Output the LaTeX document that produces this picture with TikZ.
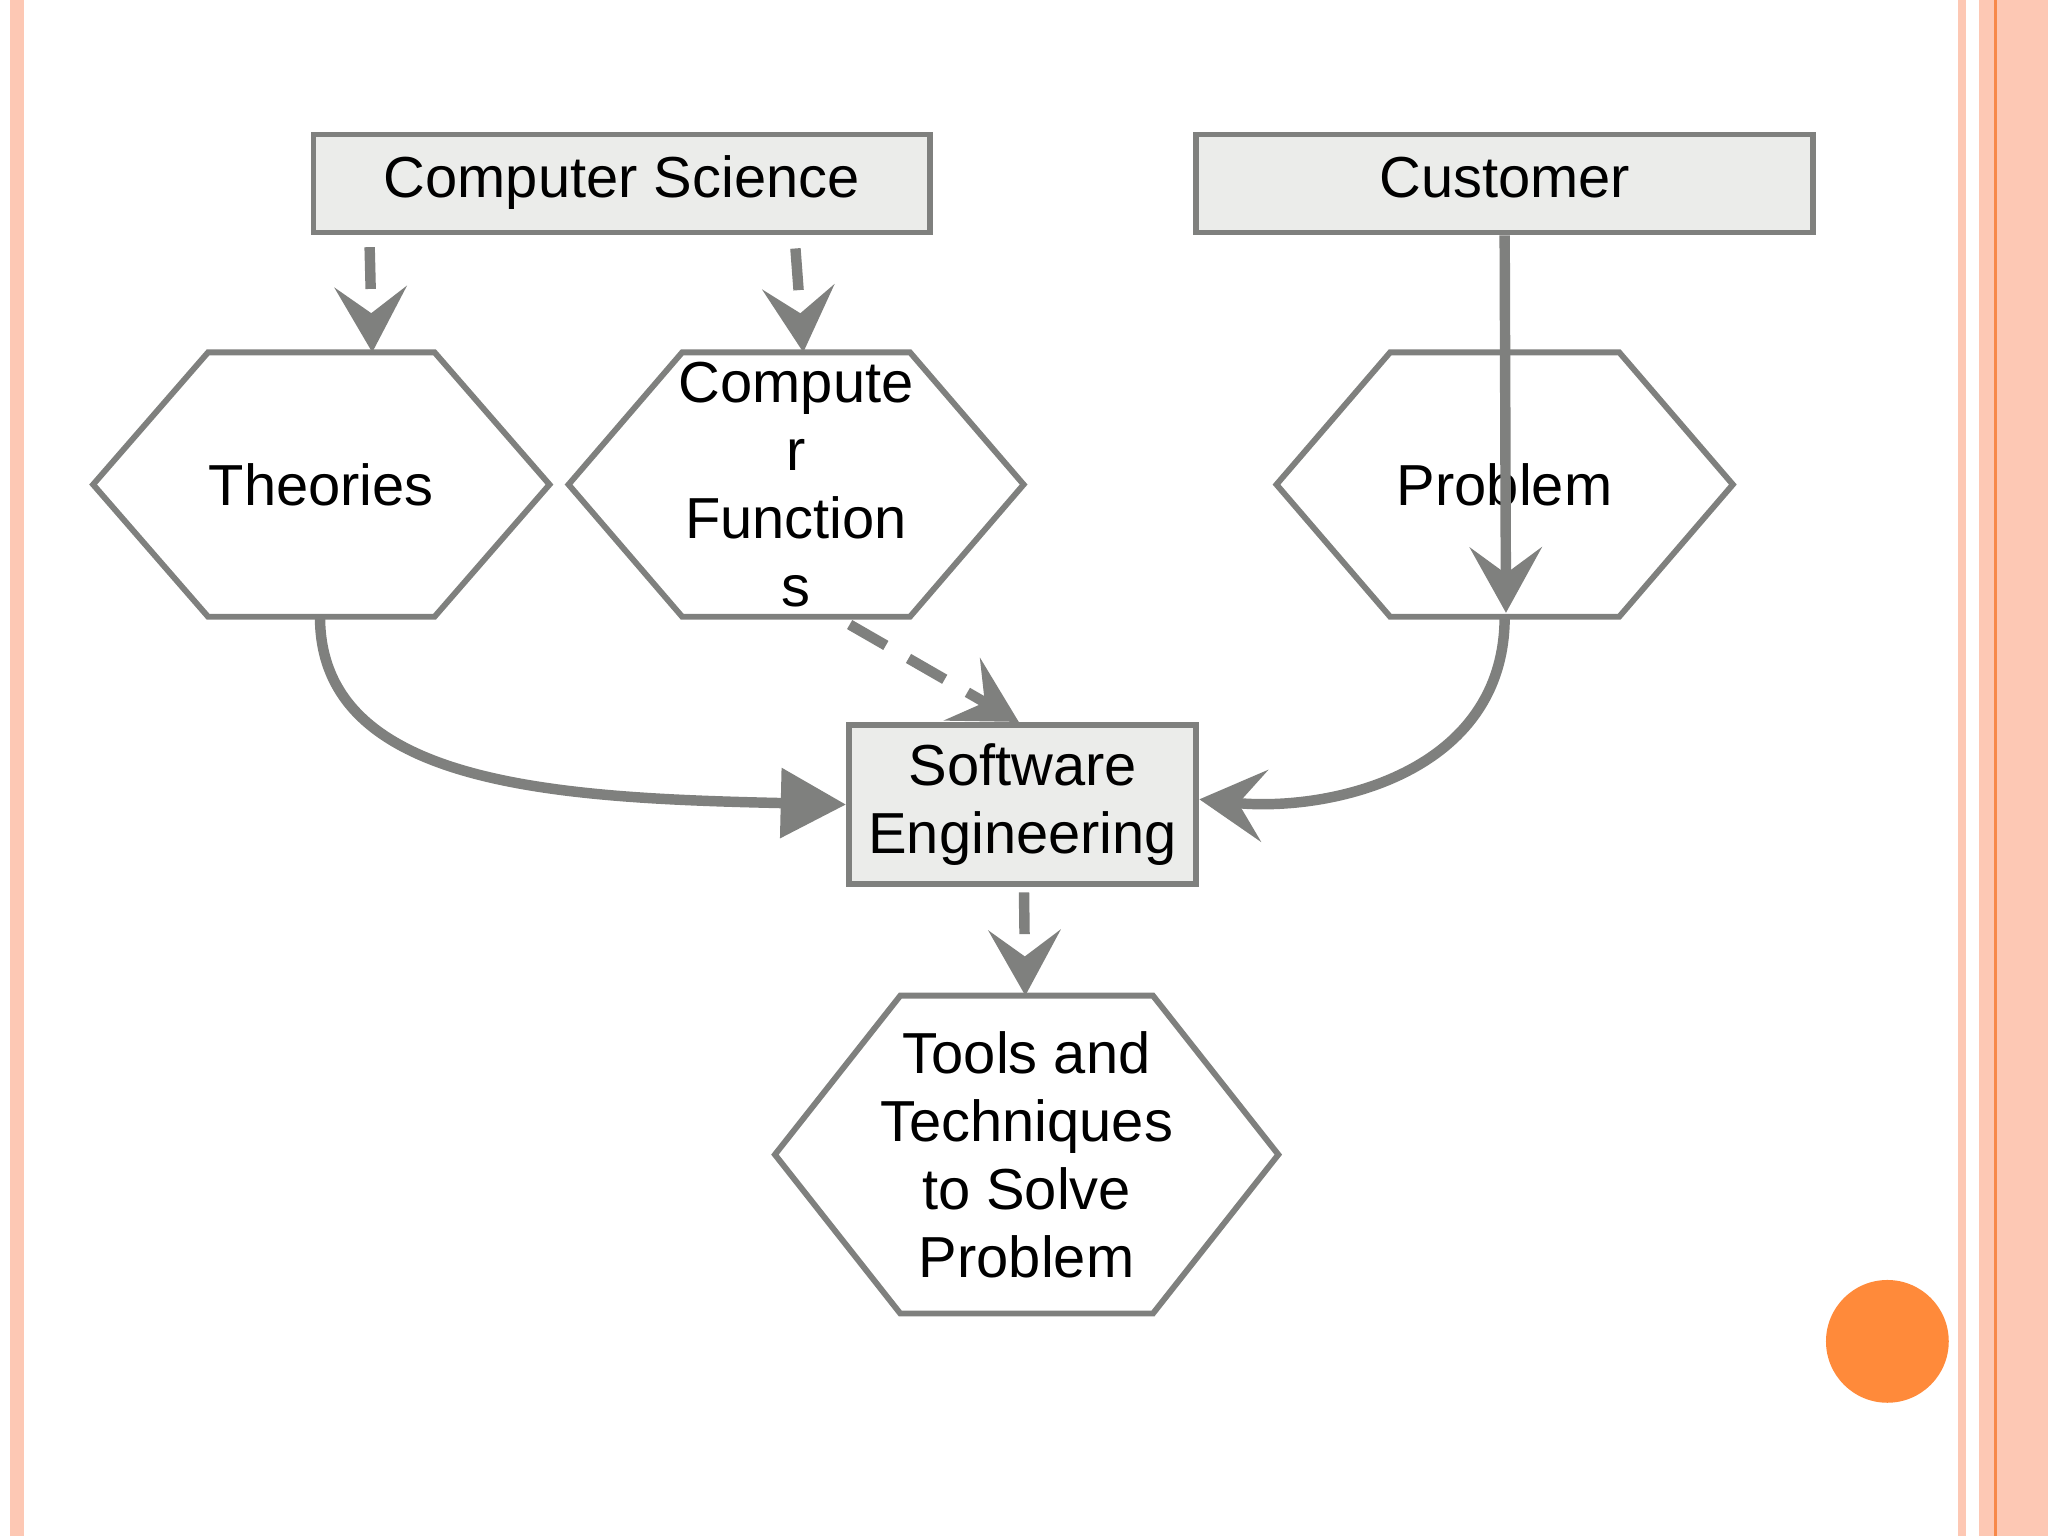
\documentclass[tikz,border=0pt]{standalone}
\usepackage{fontspec}
\setmainfont{Liberation Sans}
\usetikzlibrary{positioning,calc,arrows.meta}
\definecolor{edgegray}{HTML}{7F807E}
\definecolor{boxfill}{HTML}{EBECEA}
\definecolor{framepink}{HTML}{FDC8B4}
\definecolor{frameline}{HTML}{F7894A}
\definecolor{dotorange}{HTML}{FF8A3A}
\tikzset{
  txt/.style={font=\fontsize{12.6}{14.8}\selectfont, align=center, inner sep=0pt},
  box/.style={draw=edgegray, fill=boxfill, line width=0.045cm, txt},
  oneline/.style={text height=1.6ex, text depth=0.45ex},
  link/.style={draw=edgegray, line width=0.08cm},
  dashlink/.style={link, dash pattern=on 0.32cm off 0.2cm},
  vtip/.style={-{Stealth[length=0.5cm,width=0.55cm,inset=0.2cm]}},
  ttip/.style={-{Triangle[length=0.5cm,width=0.52cm]}}
}
% hexagon: name, centre, half width, half height, inset, text
\newcommand{\hexa}[6]{%
  \node[txt, minimum width=#3cm*2, minimum height=#4cm*2] (#1) at (#2) {#6};
  \draw[edgegray, line width=0.045cm]
    ($(#1.west)$) -- ($(#1.north west)+(#5,0)$) -- ($(#1.north east)-(#5,0)$)
    -- (#1.east) -- ($(#1.south east)-(#5,0)$) -- ($(#1.south west)+(#5,0)$) -- cycle;}
\begin{document}
\begin{tikzpicture}[x=1cm,y=1cm]
  \useasboundingbox (0,0) rectangle (15.68,11.76);
  % slide frame
  \fill[framepink] (0.08,0) rectangle (0.18,11.76);
  \fill[framepink] (14.99,0) rectangle (15.05,11.76);
  \fill[framepink] (15.15,0) rectangle (15.68,11.76);
  \fill[frameline] (15.27,0) rectangle (15.29,11.76);
  \fill[dotorange] (14.45,1.49) circle (0.47);
  % boxes
  \node[box, oneline, minimum width=4.72cm, minimum height=0.75cm] (cs) at (4.76,10.355) {Computer Science};
  \node[box, oneline, minimum width=4.72cm, minimum height=0.75cm] (cust) at (11.52,10.355) {Customer};
  \node[box, minimum width=2.66cm, minimum height=1.22cm] (se) at (7.83,5.6) {Software\\ Engineering};
  % hexagons
  \hexa{theo}{2.46,8.05}{1.74}{1.005}{0.88}{Theories}
  \hexa{cf}{6.095,8.05}{1.735}{1.005}{0.87}{Compute\\ r\\ Function\\ s}
  \hexa{prob}{11.52,8.05}{1.74}{1.005}{0.87}{Problem}
  \hexa{tools}{7.86,2.92}{1.92}{1.21}{0.96}{Tools and\\ Techniques\\ to Solve\\ Problem}
  % connectors
  \draw[dashlink, vtip] ([xshift=-1.93cm,yshift=-0.09cm]cs.south) -- ([xshift=0.39cm]theo.north);
  \draw[dashlink, vtip] ([xshift=1.33cm,yshift=-0.1cm]cs.south) -- ([xshift=0.055cm]cf.north);
  \draw[link, vtip] (cust.south) -- ([xshift=0.01cm,yshift=0.03cm]prob.south);
  \draw[dashlink, vtip] ([xshift=0.41cm,yshift=-0.06cm]cf.south) -- ([xshift=-0.03cm]se.north);
  \draw[link, ttip] ([xshift=-0.01cm]theo.south) .. controls +(0,-1.3) and +(-2.2,0.05) .. (se.west);
  \draw[link, vtip] (prob.south) .. controls +(0,-1.2) and +(1.0,-0.1) .. ([yshift=0.04cm]se.east);
  \draw[dashlink, vtip] ([xshift=0.01cm,yshift=-0.04cm]se.south) -- ([xshift=-0.01cm]tools.north);
\end{tikzpicture}
\end{document}
